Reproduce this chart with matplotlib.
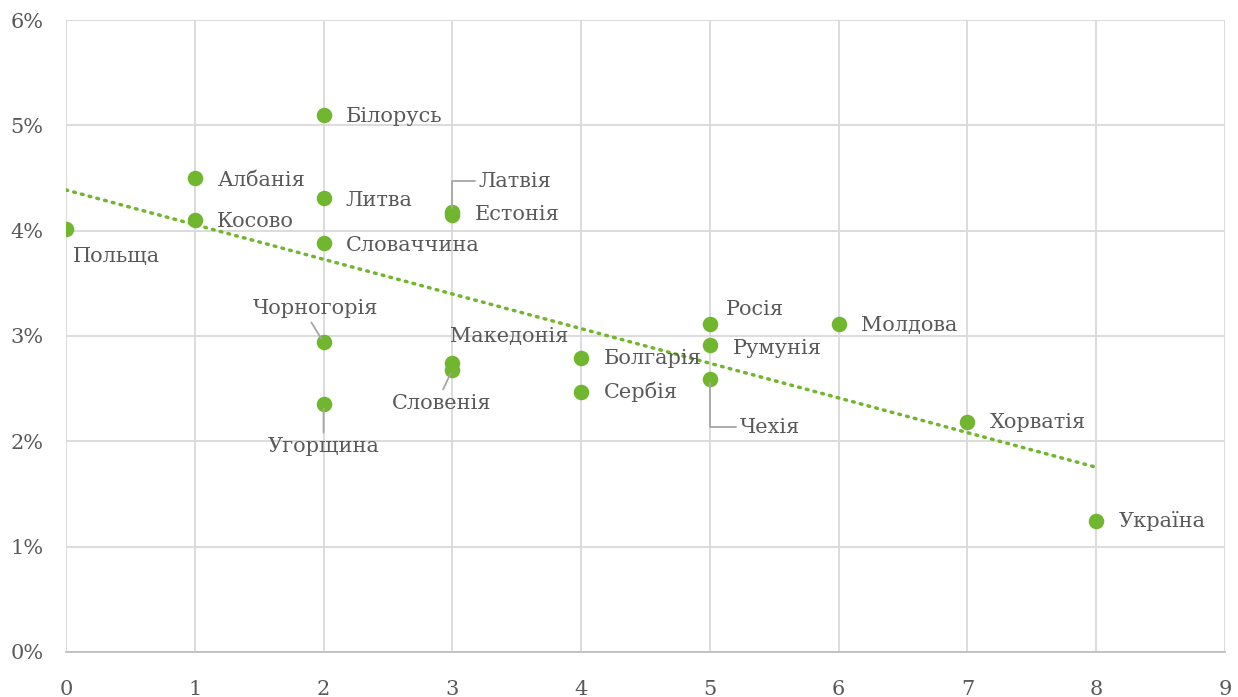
import numpy as np
import matplotlib
matplotlib.use('Agg')
import matplotlib.pyplot as plt
from matplotlib.ticker import FuncFormatter

plt.rcParams['font.family'] = ['DejaVu Serif']

# країни, ранг (вісь x) та значення у % (вісь y)
countries = ['Польща', 'Албанія', 'Косово', 'Білорусь', 'Литва', 'Словаччина',
             'Чорногорія', 'Угорщина', 'Латвія', 'Естонія', 'Македонія', 'Словенія',
             'Болгарія', 'Сербія', 'Росія', 'Румунія', 'Чехія', 'Молдова',
             'Хорватія', 'Україна']
rank = [0, 1, 1, 2, 2, 2, 2, 2, 3, 3, 3, 3, 4, 4, 5, 5, 5, 6, 7, 8]
share = [4.02, 4.50, 4.10, 5.10, 4.31, 3.88, 2.94, 2.35, 4.18, 4.15, 2.74, 2.68,
         2.79, 2.47, 3.11, 2.91, 2.59, 3.11, 2.18, 1.24]

# label placement: offset in points, horizontal alignment, leader line
label_pos = {
    'Польща': ((5, -20), 'left', None),
    'Албанія': ((16.5, -2), 'left', None),
    'Косово': ((16, -1), 'left', None),
    'Білорусь': ((16, -1.5), 'left', None),
    'Литва': ((16, -1.5), 'left', None),
    'Словаччина': ((16, -1.5), 'left', None),
    'Чорногорія': ((-6, 24), 'center', (0.45, 0.0, None)),
    'Угорщина': ((0, -30), 'center', (0.5, 1.0, None)),
    'Латвія': ((19, 22), 'left', (0.0, 0.5, 'angle,angleA=0,angleB=90,rad=0')),
    'Естонія': ((16, 0), 'left', None),
    'Македонія': ((41, 19), 'center', None),
    'Словенія': ((-8, -24), 'center', (0.5, 1.0, None)),
    'Болгарія': ((16.5, 0), 'left', None),
    'Сербія': ((16.5, 0), 'left', None),
    'Росія': ((11.5, 11), 'left', None),
    'Румунія': ((16.5, -2), 'left', None),
    'Чехія': ((21.5, -34.5), 'left', (0.0, 0.5, 'angle,angleA=0,angleB=90,rad=0')),
    'Молдова': ((16, -1), 'left', None),
    'Хорватія': ((16.5, 0), 'left', None),
    'Україна': ((16, 0), 'left', None),
}

green = '#70b62f'
text_col = '#595959'

fig = plt.figure(figsize=(12.38, 6.97), dpi=100)
ax = fig.add_axes([0.0533, 0.0646, 0.9362, 0.9067])

# linear trend
k, b = np.polyfit(rank, share, 1)
xt = np.array([min(rank), max(rank)])
ax.plot(xt, k * xt + b, color=green, linewidth=2.5, linestyle=(0, (0.5, 1.8)),
        dash_capstyle='round', zorder=2)

ax.scatter(rank, share, s=125, color=green, zorder=3, linewidths=0)

for name, x, y in zip(countries, rank, share):
    off, ha, lead = label_pos[name]
    kw = {}
    if lead is not None:
        rx, ry, conn = lead
        ap = dict(arrowstyle='-', color='#a6a6a6', linewidth=1.3,
                  shrinkA=1, shrinkB=3, relpos=(rx, ry))
        if conn:
            ap['connectionstyle'] = conn
        kw['arrowprops'] = ap
    ax.annotate(name, (x, y), xytext=off, textcoords='offset points',
                ha=ha, va='center', fontsize=15, color=text_col, zorder=4, **kw)

ax.set_xlim(0, 9)
ax.set_ylim(0, 6)
ax.set_xticks(range(0, 10))
ax.set_yticks(range(0, 7))
ax.yaxis.set_major_formatter(FuncFormatter(lambda v, p: '%d%%' % v))
ax.grid(True, color='#d9d9d9', linewidth=1.3)
ax.set_axisbelow(True)
for s in ['top', 'right', 'left']:
    ax.spines[s].set_visible(False)
ax.spines['bottom'].set_color('#bfbfbf')
ax.spines['bottom'].set_linewidth(1.3)
ax.tick_params(length=0, labelsize=15, labelcolor=text_col)
ax.tick_params(axis='x', pad=20)
ax.tick_params(axis='y', pad=40)
for lab in ax.get_yticklabels():
    lab.set_horizontalalignment('left')

plt.savefig('out.png', dpi=100)
